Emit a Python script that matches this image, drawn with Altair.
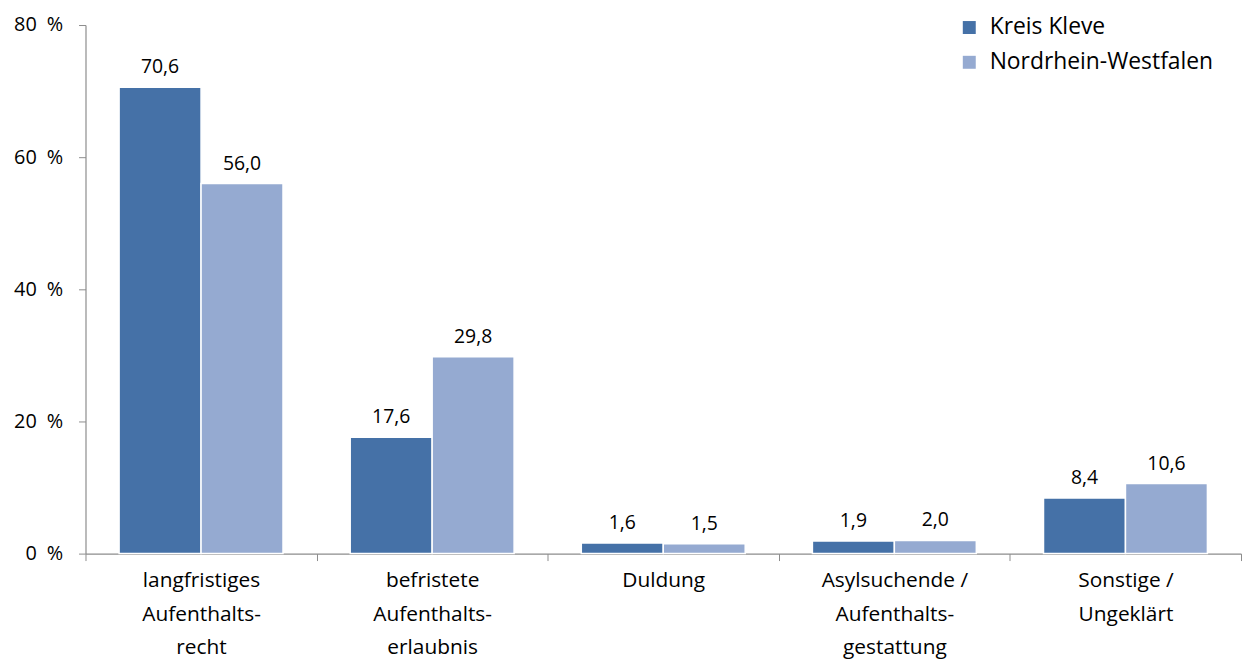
import altair as alt
import pandas as pd

categories = ["langfristiges|Aufenthalts-|recht", "befristete|Aufenthalts-|erlaubnis", "Duldung",
              "Asylsuchende /|Aufenthalts-|gestattung", "Sonstige /|Ungeklärt"]
series = ["Kreis Kleve", "Nordrhein-Westfalen"]
kleve = [70.6, 17.6, 1.6, 1.9, 8.4]
nrw = [56.0, 29.8, 1.5, 2.0, 10.6]
colors = ["#4571A7", "#95AAD1"]

rows = []
for c, a, b in zip(categories, kleve, nrw):
    rows.append({"cat": c, "series": series[0], "value": a})
    rows.append({"cat": c, "series": series[1], "value": b})
df = pd.DataFrame(rows)

FONT = "Open Sans"

x = alt.X("cat:N", sort=categories, title=None,
          scale=alt.Scale(paddingInner=0, paddingOuter=0),
          axis=alt.Axis(labelAngle=0, labelExpr="split(datum.label, '|')",
                        labelFontSize=21, labelFont=FONT, labelColor="#000000",
                        labelLineHeight=34, labelPadding=9, labelBaseline="top",
                        tickBand="extent", tickSize=7, tickColor="#8c8c8c",
                        domainColor="#8c8c8c", domainWidth=1.2, labelLimit=300))
y = alt.Y("value:Q", title=None,
          scale=alt.Scale(domain=[0, 80], nice=False),
          axis=alt.Axis(values=[0, 20, 40, 60, 80], labelExpr="datum.value + '\u2002%'",
                        grid=False, labelFontSize=20, labelFont=FONT, labelColor="#000000",
                        tickSize=7, tickColor="#8c8c8c", domainColor="#8c8c8c",
                        domainWidth=1.2, labelPadding=16))

xoff = alt.XOffset("series:N", sort=series,
                   scale=alt.Scale(paddingInner=0, paddingOuter=0.41))

base = alt.Chart(df).encode(x=x, xOffset=xoff)

bars = base.mark_bar(stroke="#ffffff", strokeWidth=1.5).encode(
    y=y,
    color=alt.Color("series:N", sort=series,
                    scale=alt.Scale(domain=series, range=colors),
                    legend=alt.Legend(title=None, orient="none", legendX=878, legendY=-9,
                                      symbolType="square", symbolSize=170, symbolStrokeWidth=0,
                                      labelFontSize=23, labelFont=FONT, labelColor="#000000",
                                      rowPadding=11, labelOffset=9, symbolOpacity=1,
                                      labelLimit=400))
)

labels = base.mark_text(dy=-10, baseline="bottom", fontSize=19.5, font=FONT, color="#000000").encode(
    y="value:Q",
    text="label:N"
).transform_calculate(label="replace(format(datum.value, '.1f'), '.', ',')")

chart = alt.layer(bars, labels).properties(
    width=1163, height=532,
    autosize=alt.AutoSizeParams(type="none"),
    padding={"left": 78, "top": 15, "right": 2, "bottom": 115}
).configure_view(stroke=None)

chart.save("out.html", embed_options={"renderer": "svg", "actions": False})
